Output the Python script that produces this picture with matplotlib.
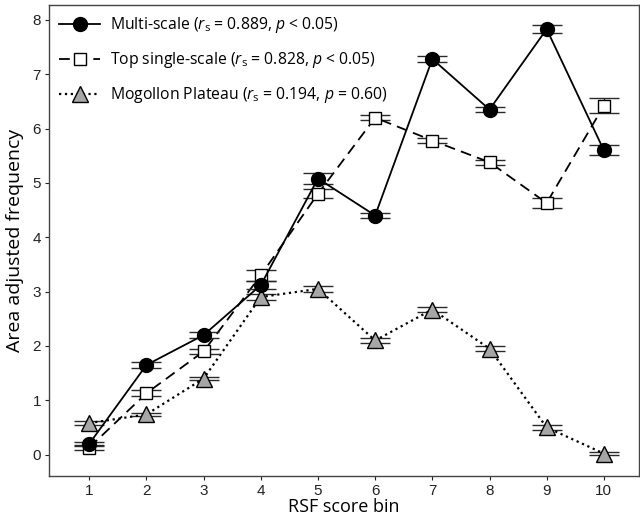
import matplotlib
matplotlib.use("Agg")
import matplotlib.pyplot as plt
from matplotlib.lines import Line2D

# data
bins = [1, 2, 3, 4, 5, 6, 7, 8, 9, 10]
multi = [0.20, 1.65, 2.20, 3.12, 5.08, 4.40, 7.28, 6.35, 7.83, 5.60]
multi_err = [0.04, 0.05, 0.05, 0.08, 0.10, 0.05, 0.05, 0.05, 0.07, 0.09]
single = [0.13, 1.13, 1.90, 3.30, 4.80, 6.20, 5.78, 5.38, 4.63, 6.42]
single_err = [0.05, 0.05, 0.05, 0.10, 0.08, 0.05, 0.05, 0.05, 0.09, 0.14]
mogollon = [0.58, 0.74, 1.40, 2.90, 3.05, 2.10, 2.67, 1.95, 0.50, 0.02]
mogollon_err = [0.04, 0.03, 0.03, 0.05, 0.05, 0.04, 0.04, 0.05, 0.04, 0.03]

labels = [r"Multi-scale ($r_\mathrm{s}$ = 0.889, $p$ < 0.05)",
          r"Top single-scale ($r_\mathrm{s}$ = 0.828, $p$ < 0.05)",
          r"Mogollon Plateau ($r_\mathrm{s}$ = 0.194, $p$ = 0.60)"]

plt.rcParams['font.family'] = ['Open Sans', 'DejaVu Sans']
plt.rcParams['mathtext.fontset'] = 'custom'
plt.rcParams['mathtext.rm'] = 'Open Sans'
plt.rcParams['mathtext.it'] = 'Open Sans:italic'

fig = plt.figure(figsize=(6.4, 5.2), dpi=100)
ax = fig.add_axes([0.077, 0.085, 0.921, 0.905])

# styles: (linestyle, linewidth, marker, size, facecolor)
styles = [('-', 1.3, 'o', 10, 'black'),
          ((0, (6, 3.5)), 1.3, 's', 8, 'white'),
          (':', 1.6, '^', 12, '#a6a6a6')]
series = [(multi, multi_err), (single, single_err), (mogollon, mogollon_err)]

cap = dict(capsize=10.5, capthick=1.7, elinewidth=1.0, ecolor='#2a2a2a')
for i in [2, 1, 0]:
    ls, lw, mk, ms, fc = styles[i]
    y, e = series[i]
    ax.errorbar(bins, y, yerr=e, color='black', ls=ls, lw=lw,
                marker=mk, ms=ms, mfc=fc, mec='black', mew=1.0,
                zorder=4 - i, **cap)

ax.set_xlim(0.3, 10.61)
ax.set_ylim(-0.39, 8.27)
ax.set_xticks(bins)
ax.set_yticks(range(0, 9))
ax.tick_params(labelsize=11, length=3, width=0.8, colors='#222222', pad=3)
for lab in ax.get_xticklabels() + ax.get_yticklabels():
    lab.set_family('Liberation Sans')
for s in ax.spines.values():
    s.set_color('#444444')
    s.set_linewidth(1.0)

ax.set_xlabel("RSF score bin", fontsize=13, labelpad=0)
ax.set_ylabel("Area adjusted frequency", fontsize=14, labelpad=6)

handles = [Line2D([], [], color='black', ls=s[0], lw=s[1], marker=s[2], ms=s[3],
                  mfc=s[4], mec='black') for s in styles]
ax.legend(handles, labels, loc='upper left', frameon=False, fontsize=11.3,
          handlelength=2.6, labelspacing=0.95, borderaxespad=0.25, handletextpad=0.6)

fig.savefig("out.png", dpi=100)
